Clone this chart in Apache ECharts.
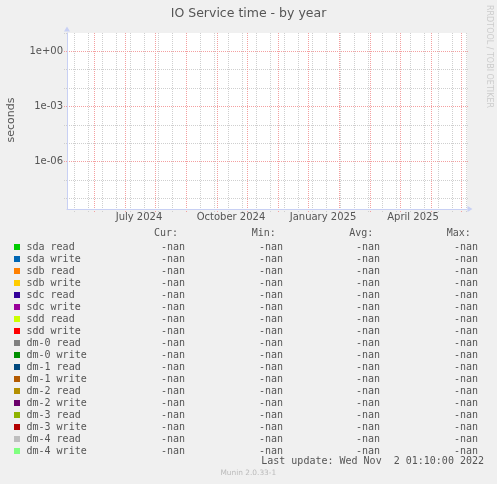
<!DOCTYPE html>
<html>
<head>
<meta charset="utf-8">
<title>IO Service time - by year</title>
<script src="https://cdn.jsdelivr.net/npm/echarts@6/dist/echarts.min.js"></script>
<style>
html,body{margin:0;padding:0;background:#f0f0f0;}
#chart{width:497px;height:484px;}
</style>
</head>
<body>
<div id="chart"></div>
<script>
// legend rows, in munin order
var seriesNames = ['sda read','sda write','sdb read','sdb write','sdc read','sdc write','sdd read','sdd write',
	'dm-0 read','dm-0 write','dm-1 read','dm-1 write','dm-2 read','dm-2 write','dm-3 read','dm-3 write','dm-4 read','dm-4 write'];
var seriesColors = ['#00cc00','#0066b3','#ff8000','#ffcc00','#330099','#990099','#ccff00','#ff0000',
	'#808080','#008f00','#00487d','#b35a00','#b38f00','#6b006b','#8fb300','#b30000','#bebebe','#80ff80'];
var curValues = ['-nan','-nan','-nan','-nan','-nan','-nan','-nan','-nan','-nan','-nan','-nan','-nan','-nan','-nan','-nan','-nan','-nan','-nan'];
var minValues = ['-nan','-nan','-nan','-nan','-nan','-nan','-nan','-nan','-nan','-nan','-nan','-nan','-nan','-nan','-nan','-nan','-nan','-nan'];
var avgValues = ['-nan','-nan','-nan','-nan','-nan','-nan','-nan','-nan','-nan','-nan','-nan','-nan','-nan','-nan','-nan','-nan','-nan','-nan'];
var maxValues = ['-nan','-nan','-nan','-nan','-nan','-nan','-nan','-nan','-nan','-nan','-nan','-nan','-nan','-nan','-nan','-nan','-nan','-nan'];
var legendHeaders = ['Cur:','Min:','Avg:','Max:'];

// time axis (400 days)
var startDay = '2024-05-04';
var endDay = '2025-06-08';
var labelDays = ['2024-07-15','2024-10-15','2025-01-15','2025-04-15'];
var labelTexts = ['July 2024','October 2024','January 2025','April 2025'];

// log y axis
var yMin = 2.6e-9;
var yMax = 10;

var lastUpdate = 'Last update: Wed Nov  2 01:10:00 2022';

function toTime(s){
	return new Date(s+'T00:00:00Z').getTime();
}
function expLabel(v){
	var e=Math.round(Math.log(v)/Math.LN10);
	var a=Math.abs(e);
	return '1e'+(e<0?'-':'+')+(a<10?'0':'')+a;
}

var axisColor='#c8d0f4';
var gridGray='#cfcfcf';
var gridRed='#f4a0a0';
var textColor='#555';
var mono={fontFamily:'DejaVu Sans Mono',fontSize:10,color:textColor,lineHeight:12};

function init(){
	var labelTimes=labelDays.map(toTime);
	var series=seriesNames.map(function(n,i){
		return {name:n,type:'line',xAxisIndex:0,yAxisIndex:0,data:[],color:seriesColors[i],showSymbol:false};
	});
	var hiddenAxis=function(g){ return {type:'value',gridIndex:g,min:0,max:1,show:false}; };
	var dots=function(c){ return {color:c,type:[1,1],width:1}; };

	var option={
		backgroundColor:'#f0f0f0',
		animation:false,
		title:{
			text:'IO Service time - by year',
			left:'center',
			top:7.5,
			padding:0,
			textStyle:{fontFamily:'DejaVu Sans',fontSize:12.5,fontWeight:'normal',color:textColor}
		},
		grid:[
			{left:67,top:33,width:400,height:176,show:true,backgroundColor:'#fff',borderWidth:0,outerBoundsMode:'none'},
			{left:74.3,top:33,width:392,height:176,outerBoundsMode:'none'},
			{left:94.3,top:33,width:367.4,height:176,outerBoundsMode:'none'},
			{left:67,top:33,width:402,height:165.2,outerBoundsMode:'none'},
			{left:67,top:51.35,width:402,height:110.1,outerBoundsMode:'none'}
		],
		xAxis:[
			{
				// timestamps in ms
				type:'value',gridIndex:0,min:toTime(startDay),max:toTime(endDay),z:5,
				axisLine:{show:true,onZero:false,lineStyle:{color:axisColor,width:1},symbol:['none','triangle'],symbolSize:[6,5],symbolOffset:[0,3]},
				axisTick:{show:false},
				splitLine:{show:false},
				axisLabel:{
					customValues:labelTimes,
					formatter:function(v){
						var k=labelTimes.indexOf(v);
						return k>=0?labelTexts[k]:'';
					},
					margin:3,color:textColor,fontFamily:'DejaVu Sans',fontSize:10
				}
			},
			{
				// minor grid
				type:'value',gridIndex:1,min:0,max:28,interval:1,z:2,
				axisLine:{show:false},axisLabel:{show:false},
				axisTick:{show:true,length:3,lineStyle:dots(gridGray)},
				splitLine:{show:true,showMinLine:true,showMaxLine:true,lineStyle:dots(gridGray)}
			},
			{
				// major grid
				type:'value',gridIndex:2,min:0,max:12,interval:1,z:3,
				axisLine:{show:false},axisLabel:{show:false},
				axisTick:{show:true,length:3,lineStyle:dots(gridRed)},
				splitLine:{show:true,showMinLine:true,showMaxLine:true,lineStyle:dots(gridRed)}
			},
			hiddenAxis(3),
			hiddenAxis(4)
		],
		yAxis:[
			{
				type:'log',gridIndex:0,min:yMin,max:yMax,z:5,
				axisLine:{show:true,lineStyle:{color:axisColor,width:1},symbol:['none','triangle'],symbolSize:[6,5],symbolOffset:[0,4]},
				axisTick:{show:false},axisLabel:{show:false},splitLine:{show:false}
			},
			hiddenAxis(1),
			hiddenAxis(2),
			{
				type:'log',gridIndex:3,min:1e-8,max:10,interval:1,z:2,
				axisLine:{show:false},axisLabel:{show:false},
				axisTick:{show:true,length:3,lineStyle:dots(gridGray)},
				splitLine:{show:true,showMinLine:true,showMaxLine:false,lineStyle:dots(gridGray)}
			},
			{
				type:'log',gridIndex:4,min:1e-6,max:1,interval:3,z:3,
				axisLine:{show:false},
				axisTick:{show:true,length:3,lineStyle:dots(gridRed)},
				axisLabel:{formatter:expLabel,margin:4,color:textColor,fontFamily:'DejaVu Sans',fontSize:10},
				splitLine:{show:true,showMinLine:true,showMaxLine:true,lineStyle:dots(gridRed)}
			}
		],
		legend:{
			orient:'vertical',left:14,top:241,padding:0,itemGap:0,
			itemWidth:6,itemHeight:6,icon:'rect',selectedMode:false,
			data:seriesNames,
			textStyle:{fontFamily:'DejaVu Sans Mono',fontSize:10,color:textColor,lineHeight:12,
				rich:{
					p:Object.assign({width:1.5},mono),
					n:Object.assign({width:108.5},mono),
					c:Object.assign({width:50,align:'right'},mono),
					m:Object.assign({width:98,align:'right'},mono),
					a:Object.assign({width:97,align:'right'},mono),
					x:Object.assign({width:98,align:'right'},mono)
				}
			},
			formatter:function(name){
				var i=seriesNames.indexOf(name);
				return '{p| }{n|'+name+'}{c|'+curValues[i]+'}{m|'+minValues[i]+'}{a|'+avgValues[i]+'}{x|'+maxValues[i]+'}';
			}
		},
		graphic:[
			{type:'text',x:11,y:120,rotation:Math.PI/2,style:{text:'seconds',fontFamily:'DejaVu Sans',fontSize:11,fill:textColor,align:'center',verticalAlign:'middle',textAlign:'center',textVerticalAlign:'middle'}},
			{type:'text',x:489,y:56.5,rotation:-Math.PI/2,style:{text:'RRDTOOL / TOBI OETIKER',fontFamily:'DejaVu Sans',fontSize:8,fill:'#cccccc',align:'center',verticalAlign:'middle',textAlign:'center',textVerticalAlign:'middle'}},
			{type:'text',x:154,y:233.3,style:{text:legendHeaders[0],fontFamily:'DejaVu Sans Mono',fontSize:10,fill:textColor,verticalAlign:'middle',textVerticalAlign:'middle'}},
			{type:'text',x:251.7,y:233.3,style:{text:legendHeaders[1],fontFamily:'DejaVu Sans Mono',fontSize:10,fill:textColor,verticalAlign:'middle',textVerticalAlign:'middle'}},
			{type:'text',x:349.2,y:233.3,style:{text:legendHeaders[2],fontFamily:'DejaVu Sans Mono',fontSize:10,fill:textColor,verticalAlign:'middle',textVerticalAlign:'middle'}},
			{type:'text',x:446.8,y:233.3,style:{text:legendHeaders[3],fontFamily:'DejaVu Sans Mono',fontSize:10,fill:textColor,verticalAlign:'middle',textVerticalAlign:'middle'}},
			{type:'text',x:484,y:461,style:{text:lastUpdate,fontFamily:'DejaVu Sans Mono',fontSize:10,fill:textColor,align:'right',verticalAlign:'middle',textAlign:'right',textVerticalAlign:'middle'}},
			{type:'text',x:248.3,y:473.3,style:{text:'Munin 2.0.33-1',fontFamily:'DejaVu Sans',fontSize:7.4,fill:'#bbbbbb',align:'center',verticalAlign:'middle',textAlign:'center',textVerticalAlign:'middle'}}
		],
		series:series
	};

	var myChart=echarts.init(document.getElementById('chart'));
	myChart.setOption(option);
}
init();
</script>
</body>
</html>
